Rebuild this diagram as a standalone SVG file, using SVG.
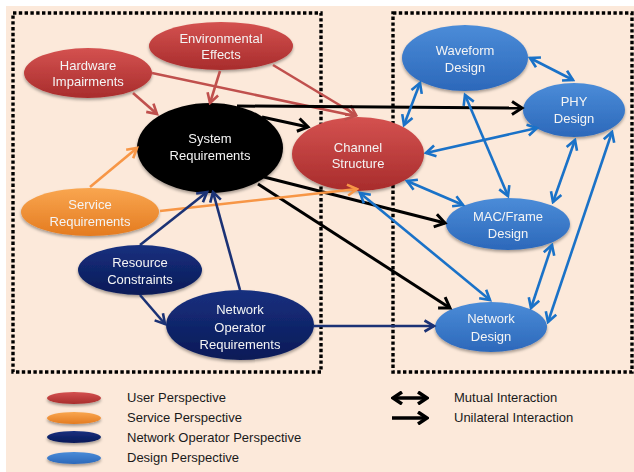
<svg xmlns="http://www.w3.org/2000/svg" width="634" height="472" viewBox="0 0 634 472">
<style>
.t{font-family:"Liberation Sans",Arial,sans-serif;font-size:13px;fill:#f4f4f4;text-anchor:middle}
.lg{font-family:"Liberation Sans",Arial,sans-serif;font-size:13px;fill:#1a1a1a}
.box{fill:none;stroke:#000;stroke-width:3.4;stroke-dasharray:3.4 2.4}
.c{fill:none;stroke-width:2.6}
.red{stroke:#c0504d;marker-end:url(#mr)}
.blk{stroke:#000;stroke-width:3;marker-end:url(#mk)}
.org{stroke:#f79646;marker-end:url(#mo)}
.nav{stroke:#1b3275;marker-end:url(#mn)}
.blu{stroke:#1a72c8;marker-end:url(#mb);marker-start:url(#mb)}
</style>
<defs>
<linearGradient id="gr" x1="0" y1="0" x2="0" y2="1"><stop offset="0" stop-color="#d45250"/><stop offset="1" stop-color="#a82c2c"/></linearGradient>
<linearGradient id="go" x1="0" y1="0" x2="0" y2="1"><stop offset="0" stop-color="#f9a650"/><stop offset="1" stop-color="#e47b1f"/></linearGradient>
<linearGradient id="gn" x1="0" y1="0" x2="0" y2="1"><stop offset="0" stop-color="#17307f"/><stop offset="1" stop-color="#0a1a57"/></linearGradient>
<linearGradient id="gb" x1="0" y1="0" x2="0" y2="1"><stop offset="0" stop-color="#4b8cd8"/><stop offset="1" stop-color="#2c68ba"/></linearGradient>
<filter id="sh" x="-20%" y="-20%" width="140%" height="150%"><feDropShadow dx="0" dy="2" stdDeviation="1.5" flood-color="#000" flood-opacity="0.35"/></filter>
<marker id="mr" viewBox="0 0 14 14" refX="11.5" refY="7" markerWidth="14" markerHeight="14" orient="auto-start-reverse" markerUnits="userSpaceOnUse"><path d="M2,1.5 L11.5,7 L2,12.5" fill="none" stroke="#c0504d" stroke-width="2.6"/></marker>
<marker id="mk" viewBox="0 0 16 16" refX="13" refY="8" markerWidth="16" markerHeight="16" orient="auto-start-reverse" markerUnits="userSpaceOnUse"><path d="M3,1.5 L13,8 L3,14.5" fill="none" stroke="#000" stroke-width="3"/></marker>
<marker id="mo" viewBox="0 0 14 14" refX="11.5" refY="7" markerWidth="14" markerHeight="14" orient="auto-start-reverse" markerUnits="userSpaceOnUse"><path d="M2,1.5 L11.5,7 L2,12.5" fill="none" stroke="#f79646" stroke-width="2.6"/></marker>
<marker id="mn" viewBox="0 0 14 14" refX="11.5" refY="7" markerWidth="14" markerHeight="14" orient="auto-start-reverse" markerUnits="userSpaceOnUse"><path d="M2,1.5 L11.5,7 L2,12.5" fill="none" stroke="#1b3275" stroke-width="2.6"/></marker>
<marker id="mb" viewBox="0 0 14 14" refX="11.5" refY="7" markerWidth="14" markerHeight="14" orient="auto-start-reverse" markerUnits="userSpaceOnUse"><path d="M2,1.5 L11.5,7 L2,12.5" fill="none" stroke="#1a72c8" stroke-width="2.6"/></marker>
<marker id="ml" viewBox="0 0 14 14" refX="12" refY="7" markerWidth="14" markerHeight="14" orient="auto-start-reverse" markerUnits="userSpaceOnUse"><path d="M3,1 L12,7 L3,13" fill="none" stroke="#000" stroke-width="3.5"/></marker>
</defs>
<rect x="0" y="0" width="634" height="472" fill="#ffffff"/>
<rect x="6" y="6" width="628" height="466" fill="#fce9da"/>
<rect class="box" x="13" y="13" width="308" height="359"/>
<rect class="box" x="393" y="13" width="239" height="359"/>

<g id="hardware-impairments" filter="url(#sh)"><ellipse cx="88" cy="73" rx="64" ry="25" fill="url(#gr)"/><text class="t" x="88" y="70">Hardware</text><text class="t" x="88" y="86">Impairments</text></g>
<g id="environmental-effects" filter="url(#sh)"><ellipse cx="221" cy="46" rx="72" ry="24" fill="url(#gr)"/><text class="t" x="221" y="43">Environmental</text><text class="t" x="221" y="59">Effects</text></g>
<g id="system-requirements" filter="url(#sh)"><ellipse cx="210" cy="148" rx="73" ry="45" fill="#000"/><text class="t" x="210" y="143">System</text><text class="t" x="210" y="160">Requirements</text></g>
<g id="channel-structure" filter="url(#sh)"><ellipse cx="358" cy="154" rx="66" ry="37" fill="url(#gr)"/><text class="t" x="358" y="152">Channel</text><text class="t" x="358" y="168">Structure</text></g>
<g id="service-requirements" filter="url(#sh)"><ellipse cx="90" cy="212" rx="69" ry="24" fill="url(#go)"/><text class="t" x="90" y="209">Service</text><text class="t" x="90" y="226">Requirements</text></g>
<g id="resource-constraints" filter="url(#sh)"><ellipse cx="140" cy="270" rx="62" ry="25" fill="url(#gn)"/><text class="t" x="140" y="267">Resource</text><text class="t" x="140" y="284">Constraints</text></g>
<g id="network-operator-requirements" filter="url(#sh)"><ellipse cx="240" cy="325" rx="74" ry="35" fill="url(#gn)"/><text class="t" x="240" y="314">Network</text><text class="t" x="240" y="332">Operator</text><text class="t" x="240" y="349">Requirements</text></g>
<g id="waveform-design" filter="url(#sh)"><ellipse cx="465" cy="58" rx="63" ry="33" fill="url(#gb)"/><text class="t" x="465" y="55">Waveform</text><text class="t" x="465" y="72">Design</text></g>
<g id="phy-design" filter="url(#sh)"><ellipse cx="574" cy="110" rx="51" ry="27" fill="url(#gb)"/><text class="t" x="574" y="106">PHY</text><text class="t" x="574" y="123">Design</text></g>
<g id="mac-frame-design" filter="url(#sh)"><ellipse cx="508" cy="224" rx="62" ry="26" fill="url(#gb)"/><text class="t" x="508" y="221">MAC/Frame</text><text class="t" x="508" y="238">Design</text></g>
<g id="network-design" filter="url(#sh)"><ellipse cx="491" cy="327" rx="56" ry="25" fill="url(#gb)"/><text class="t" x="491" y="323">Network</text><text class="t" x="491" y="341">Design</text></g>

<g id="connectors">
<line class="c red" x1="133" y1="93" x2="157" y2="114"/>
<line class="c red" x1="220" y1="71" x2="210" y2="103"/>
<line class="c red" x1="152" y1="73" x2="355" y2="116"/>
<line class="c red" x1="273" y1="65" x2="356" y2="115"/>
<line class="c blk" x1="262" y1="117" x2="308" y2="127"/>
<line class="c blk" x1="237" y1="106" x2="522" y2="108"/>
<line class="c blk" x1="264" y1="177" x2="445" y2="223"/>
<line class="c blk" x1="258" y1="184" x2="450" y2="308"/>
<line class="c org" x1="90" y1="187" x2="137" y2="148"/>
<line class="c org" x1="160" y1="211" x2="357" y2="189"/>
<line class="c nav" x1="140" y1="245" x2="207" y2="192"/>
<line class="c nav" x1="240" y1="290" x2="213" y2="192"/>
<line class="c nav" x1="140" y1="295" x2="165" y2="324"/>
<line class="c nav" x1="313" y1="326" x2="434" y2="326"/>
<line class="c blu" x1="420" y1="83" x2="404" y2="125"/>
<line class="c blu" x1="530" y1="58" x2="573" y2="80"/>
<line class="c blu" x1="465" y1="95" x2="508" y2="196"/>
<line class="c blu" x1="537" y1="128" x2="426" y2="153"/>
<line class="c blu" x1="575" y1="140" x2="553" y2="202"/>
<line class="c blu" x1="612" y1="132" x2="548" y2="322"/>
<line class="c blu" x1="407" y1="181" x2="463" y2="205"/>
<line class="c blu" x1="360" y1="193" x2="490" y2="300"/>
<line class="c blu" x1="552" y1="245" x2="531" y2="308"/>
</g>

<g id="legend">
<ellipse cx="74" cy="398" rx="27" ry="6" fill="url(#gr)" filter="url(#sh)"/>
<ellipse cx="74" cy="418" rx="27" ry="6" fill="url(#go)" filter="url(#sh)"/>
<ellipse cx="74" cy="437" rx="27" ry="6" fill="url(#gn)" filter="url(#sh)"/>
<ellipse cx="74" cy="458" rx="27" ry="6" fill="url(#gb)" filter="url(#sh)"/>
<text class="lg" x="127" y="402">User Perspective</text>
<text class="lg" x="127" y="422">Service Perspective</text>
<text class="lg" x="127" y="442">Network Operator Perspective</text>
<text class="lg" x="127" y="462">Design Perspective</text>
<line x1="393" y1="398" x2="427" y2="398" stroke="#000" stroke-width="3.5" marker-start="url(#ml)" marker-end="url(#ml)"/>
<line x1="392" y1="418" x2="427" y2="418" stroke="#000" stroke-width="3.5" marker-end="url(#ml)"/>
<text class="lg" x="454" y="402">Mutual Interaction</text>
<text class="lg" x="454" y="422">Unilateral Interaction</text>
</g>
</svg>
